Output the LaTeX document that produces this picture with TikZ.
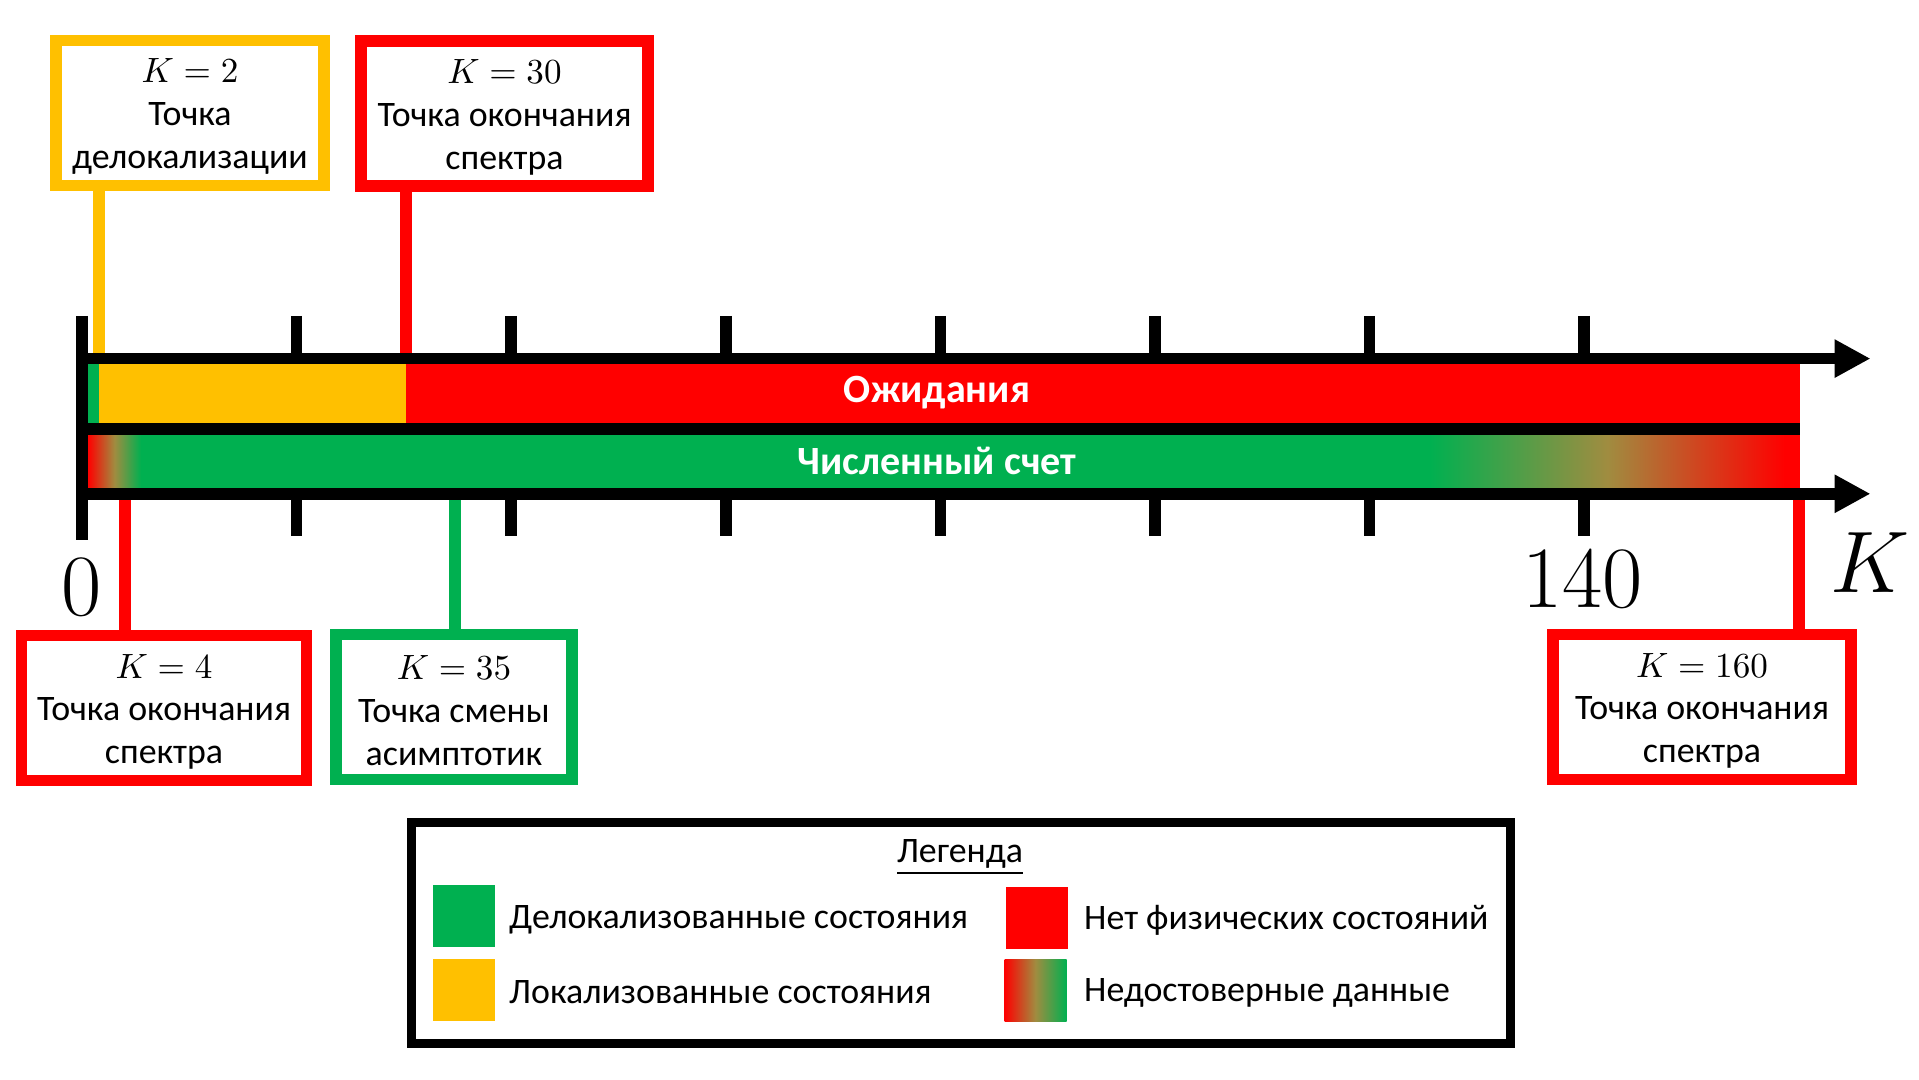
\documentclass[tikz,border=0pt]{standalone}
\usepackage[no-math]{fontspec}
\setmainfont{Carlito}
\usepackage{xcolor}
\definecolor{kgreen}{RGB}{0,176,80}
\definecolor{kyellow}{RGB}{255,192,0}
\definecolor{kred}{RGB}{255,0,0}
\definecolor{kmid}{RGB}{160,140,64}
\usetikzlibrary{arrows.meta, positioning, calc}
\pgfdeclarehorizontalshading{redgreen}{100bp}{color(0bp)=(kred); color(25bp)=(kred); color(50bp)=(kmid); color(75bp)=(kgreen); color(100bp)=(kgreen)}
\pgfdeclarehorizontalshading{greenred}{100bp}{color(0bp)=(kgreen); color(25bp)=(kgreen); color(50bp)=(kmid); color(75bp)=(kred); color(100bp)=(kred)}
\newcommand{\kval}[1]{\rule{0pt}{9pt}$K=#1$}

\begin{document}
\begin{tikzpicture}[
    infobox/.style={draw=#1, line width=3.3pt, fill=white, align=center, inner sep=0pt,
      font=\fontsize{10.2}{12.2}\selectfont, minimum height=1.45cm},
    link/.style={draw=#1, line width=3.3pt},
    axisline/.style={line width=3.3pt, -{Triangle[length=0.36cm,width=0.36cm]}},
    tickline/.style={line width=3.3pt},
    bartext/.style={text=white, font=\bfseries\fontsize{11.4}{13}\selectfont},
    swatch/.style={minimum size=0.62cm, inner sep=0pt},
    legitem/.style={anchor=west, inner sep=0pt, font=\fontsize{10.2}{12.5}\selectfont}
  ]

\useasboundingbox (0,0) rectangle (19.19,10.79);

% Boxes above the axis
\node[infobox=kyellow, minimum width=2.68cm] (k2) at (1.90,9.66)
  {\kval{2}\\Точка\\делокализации};
\node[infobox=kred, minimum width=2.87cm] (k30) at (5.045,9.655)
  {\kval{30}\\Точка окончания\\спектра};

% Boxes below the axis
\node[infobox=kred, minimum width=2.85cm] (k4) at (1.64,3.71)
  {\kval{4}\\Точка окончания\\спектра};
\node[infobox=kgreen, minimum width=2.36cm] (k35) at (4.54,3.72)
  {\kval{35}\\Точка смены\\асимптотик};
\node[infobox=kred, minimum width=2.98cm] (k160) at (17.02,3.72)
  {\kval{160}\\Точка окончания\\спектра};

% Points on the axes
\coordinate (k2pt) at (0.99,7.204);
\coordinate (k30pt) at (4.06,7.204);
\coordinate (k4pt) at (1.25,5.852);
\coordinate (k35pt) at (4.55,5.852);
\coordinate (k160pt) at (17.99,5.852);

% Connectors
\draw[link=kyellow] (k2pt) -- (k2pt |- k2.south);
\draw[link=kred] (k30pt) -- (k30pt |- k30.south);
\draw[link=kred] (k4pt) -- (k4pt |- k4.north);
\draw[link=kgreen] (k35pt) -- (k35pt |- k35.north);
\draw[link=kred] (k160pt) -- (k160pt |- k160.north);

% Ticks
\foreach \i in {1,...,7}
  \draw[tickline] ({0.82+2.146*\i},7.63) -- ++(0,-2.2);

% Expectation bar
\fill[kred] (0.82,7.204) rectangle (18.0,6.503);
\fill[kyellow] (0.82,7.204) rectangle (4.06,6.503);
\fill[kgreen] (0.82,7.204) rectangle (0.99,6.503);
\node[bartext] (expect) at (9.37,6.865) {Ожидания};

% Numerical bar
\fill[kgreen] (0.88,6.503) rectangle (18.0,5.852);
\shade[shading=redgreen] (0.88,6.503) rectangle (1.41,5.852);
\shade[shading=greenred] (14.3,6.503) rectangle (17.85,5.852);
\fill[kred] (17.84,6.503) rectangle (18.0,5.852);
\node[bartext] (numeric) at (9.37,6.18) {Численный счет};

% Axes
\draw[axisline] (0.76,7.204) -- (18.705,7.204);
\draw[line width=3.5pt] (0.82,6.503) -- (18.0,6.503);
\draw[axisline] (0.76,5.852) -- (18.705,5.852);
\draw[line width=3.4pt] (0.82,7.63) -- (0.82,5.39);

\node[font=\fontsize{23.5}{26}\selectfont] (zero) at (0.82,4.915) {$0$};
\node[font=\fontsize{23.5}{26}\selectfont] (k140) at (15.83,5.0) {$140$};
\node[font=\fontsize{27}{30}\selectfont] (kaxis) at (18.70,5.16) {$K$};

% Legend
\node[draw, line width=2.6pt, minimum width=10.99cm, minimum height=2.207cm] (legend) at (9.61,1.4585) {};
\node[font=\fontsize{10.2}{12.5}\selectfont] (legtitle) at (9.60,2.22) {\underline{Легенда}};
\node[swatch, fill=kgreen] (swdeloc) at (4.64,1.626) {};
\node[swatch, fill=kyellow] (swloc) at (4.64,0.886) {};
\node[swatch, fill=kred] (swnone) at (10.365,1.615) {};
\node[swatch, shading=redgreen] (swunsure) at (10.355,0.886) {};
\node[legitem] (ldeloc) at (5.085,1.59) {Делокализованные состояния};
\node[legitem] (lloc) at (5.085,0.865) {Локализованные состояния};
\node[legitem] (lnone) at (10.835,1.59) {Нет физических состояний};
\node[legitem] (lunsure) at (10.835,0.865) {Недостоверные данные};

\end{tikzpicture}
\end{document}
